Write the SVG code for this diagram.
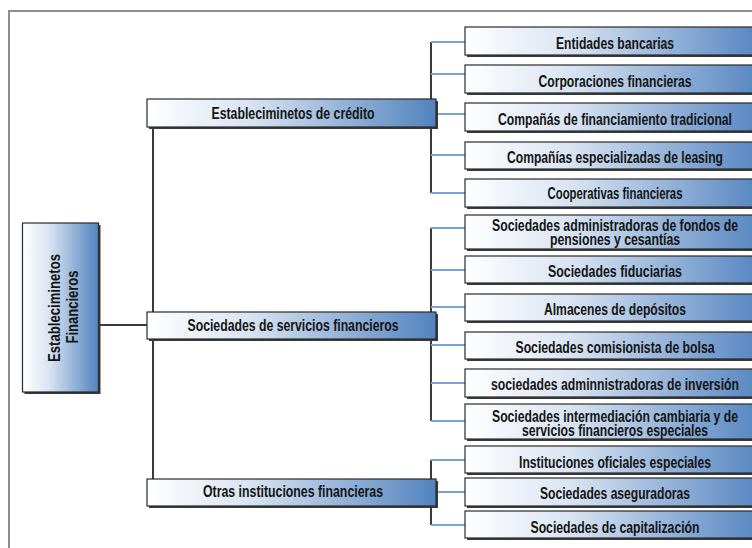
<svg xmlns="http://www.w3.org/2000/svg" width="752" height="548" viewBox="0 0 752 548">
  <defs>
    <linearGradient id="g" x1="0" y1="0" x2="1" y2="0">
      <stop offset="0" stop-color="#ffffff"/>
      <stop offset="0.35" stop-color="#d9e4f2"/>
      <stop offset="1" stop-color="#5283bf"/>
    </linearGradient>
    <style>
      .box { fill: url(#g); stroke: #2a2a2a; stroke-width: 1.2; }
      .sh { fill: #3a3a3a; }
      .t { font-family: "Liberation Sans", Arial, sans-serif; font-weight: bold; font-size: 16px; fill: #141414; text-anchor: middle; }
      .dark { stroke: #3a3a3a; stroke-width: 2; fill: none; }
      .blue { stroke: #7ba4d2; stroke-width: 2; fill: none; }
      .frame { stroke: #8c8c8c; stroke-width: 2; fill: none; }
    </style>
  </defs>
  <rect width="752" height="548" fill="#ffffff"/>
  <path class="frame" d="M9 548 V11 H752"/>

  <g id="connectors">
    <path class="dark" d="M98 325 H147"/>
    <path class="dark" d="M153 127 V479"/>
    <path class="dark" d="M431 42 V193"/>
    <path class="dark" d="M431 228 V421"/>
    <path class="dark" d="M431 460 V525"/>
    <path class="blue" d="M431 42 H465 M431 74 H465 M436 114 H465 M431 155 H465 M431 193 H465"/>
    <path class="blue" d="M431 228 H465 M431 270 H465 M431 307 H465 M431 345 H465 M431 383 H465 M431 421 H465"/>
    <path class="blue" d="M431 460 H465 M436 492 H465 M431 525 H465"/>
  </g>

  <g id="root">
    <rect class="sh" x="24.5" y="225" width="76" height="169"/>
    <rect class="box" x="22.5" y="223" width="76" height="169"/>
    <text class="t" transform="translate(60 308) rotate(-90)" x="0" y="0" textLength="108" lengthAdjust="spacingAndGlyphs">Estableciminetos</text>
    <text class="t" transform="translate(78 307) rotate(-90)" x="0" y="0" textLength="73" lengthAdjust="spacingAndGlyphs">Financieros</text>
  </g>

  <g id="credito">
    <rect class="sh" x="149" y="101" width="289" height="28"/>
    <rect class="box" x="147" y="99" width="289" height="28"/>
    <text class="t" x="293" y="119" textLength="163" lengthAdjust="spacingAndGlyphs">Estableciminetos de crédito</text>
  </g>
  <g id="servicios">
    <rect class="sh" x="149" y="314" width="289" height="27"/>
    <rect class="box" x="147" y="312" width="289" height="27"/>
    <text class="t" x="293" y="331" textLength="211" lengthAdjust="spacingAndGlyphs">Sociedades de servicios financieros</text>
  </g>
  <g id="otras">
    <rect class="sh" x="149" y="481" width="289" height="27"/>
    <rect class="box" x="147" y="479" width="289" height="27"/>
    <text class="t" x="293" y="497" textLength="180" lengthAdjust="spacingAndGlyphs">Otras instituciones financieras</text>
  </g>

  <g id="entidades">
    <rect class="sh" x="467" y="29" width="300" height="28"/>
    <rect class="box" x="465" y="27" width="300" height="28"/>
    <text class="t" x="615" y="49" textLength="118" lengthAdjust="spacingAndGlyphs">Entidades bancarias</text>
  </g>
  <g id="corporaciones">
    <rect class="sh" x="467" y="67" width="300" height="28"/>
    <rect class="box" x="465" y="65" width="300" height="28"/>
    <text class="t" x="615" y="87" textLength="153" lengthAdjust="spacingAndGlyphs">Corporaciones financieras</text>
  </g>
  <g id="companias-fin">
    <rect class="sh" x="467" y="105" width="300" height="28"/>
    <rect class="box" x="465" y="103" width="300" height="28"/>
    <text class="t" x="615" y="125" textLength="234" lengthAdjust="spacingAndGlyphs">Compañás de financiamiento tradicional</text>
  </g>
  <g id="leasing">
    <rect class="sh" x="467" y="144" width="300" height="27"/>
    <rect class="box" x="465" y="142" width="300" height="27"/>
    <text class="t" x="615" y="163" textLength="216" lengthAdjust="spacingAndGlyphs">Compañías especializadas de leasing</text>
  </g>
  <g id="cooperativas">
    <rect class="sh" x="467" y="181" width="300" height="28"/>
    <rect class="box" x="465" y="179" width="300" height="28"/>
    <text class="t" x="615" y="199" textLength="135" lengthAdjust="spacingAndGlyphs">Cooperativas financieras</text>
  </g>

  <g id="pensiones">
    <rect class="sh" x="467" y="217" width="300" height="34"/>
    <rect class="box" x="465" y="215" width="300" height="34"/>
    <text class="t" x="615" y="231" textLength="246" lengthAdjust="spacingAndGlyphs">Sociedades administradoras de fondos de</text>
    <text class="t" x="615" y="245" textLength="130" lengthAdjust="spacingAndGlyphs">pensiones y cesantías</text>
  </g>
  <g id="fiduciarias">
    <rect class="sh" x="467" y="258" width="300" height="27"/>
    <rect class="box" x="465" y="256" width="300" height="27"/>
    <text class="t" x="615" y="277" textLength="134" lengthAdjust="spacingAndGlyphs">Sociedades fiduciarias</text>
  </g>
  <g id="almacenes">
    <rect class="sh" x="467" y="296" width="300" height="27"/>
    <rect class="box" x="465" y="294" width="300" height="27"/>
    <text class="t" x="615" y="315" textLength="142" lengthAdjust="spacingAndGlyphs">Almacenes de depósitos</text>
  </g>
  <g id="comisionista">
    <rect class="sh" x="467" y="334" width="300" height="27"/>
    <rect class="box" x="465" y="332" width="300" height="27"/>
    <text class="t" x="615" y="353" textLength="199" lengthAdjust="spacingAndGlyphs">Sociedades comisionista de bolsa</text>
  </g>
  <g id="inversion">
    <rect class="sh" x="467" y="371" width="300" height="28"/>
    <rect class="box" x="465" y="369" width="300" height="28"/>
    <text class="t" x="615" y="390" textLength="248" lengthAdjust="spacingAndGlyphs">sociedades adminnistradoras de inversión</text>
  </g>
  <g id="cambiaria">
    <rect class="sh" x="467" y="406" width="300" height="35"/>
    <rect class="box" x="465" y="404" width="300" height="35"/>
    <text class="t" x="615" y="422" textLength="246" lengthAdjust="spacingAndGlyphs">Sociedades intermediación cambiaria y de</text>
    <text class="t" x="615" y="436" textLength="186" lengthAdjust="spacingAndGlyphs">servicios financieros especiales</text>
  </g>

  <g id="oficiales">
    <rect class="sh" x="467" y="448" width="300" height="27"/>
    <rect class="box" x="465" y="446" width="300" height="27"/>
    <text class="t" x="615" y="468" textLength="192" lengthAdjust="spacingAndGlyphs">Instituciones oficiales especiales</text>
  </g>
  <g id="aseguradoras">
    <rect class="sh" x="467" y="480" width="300" height="28"/>
    <rect class="box" x="465" y="478" width="300" height="28"/>
    <text class="t" x="615" y="499" textLength="150" lengthAdjust="spacingAndGlyphs">Sociedades aseguradoras</text>
  </g>
  <g id="capitalizacion">
    <rect class="sh" x="467" y="513" width="300" height="27"/>
    <rect class="box" x="465" y="511" width="300" height="27"/>
    <text class="t" x="615" y="533" textLength="169" lengthAdjust="spacingAndGlyphs">Sociedades de capitalización</text>
  </g>
</svg>
